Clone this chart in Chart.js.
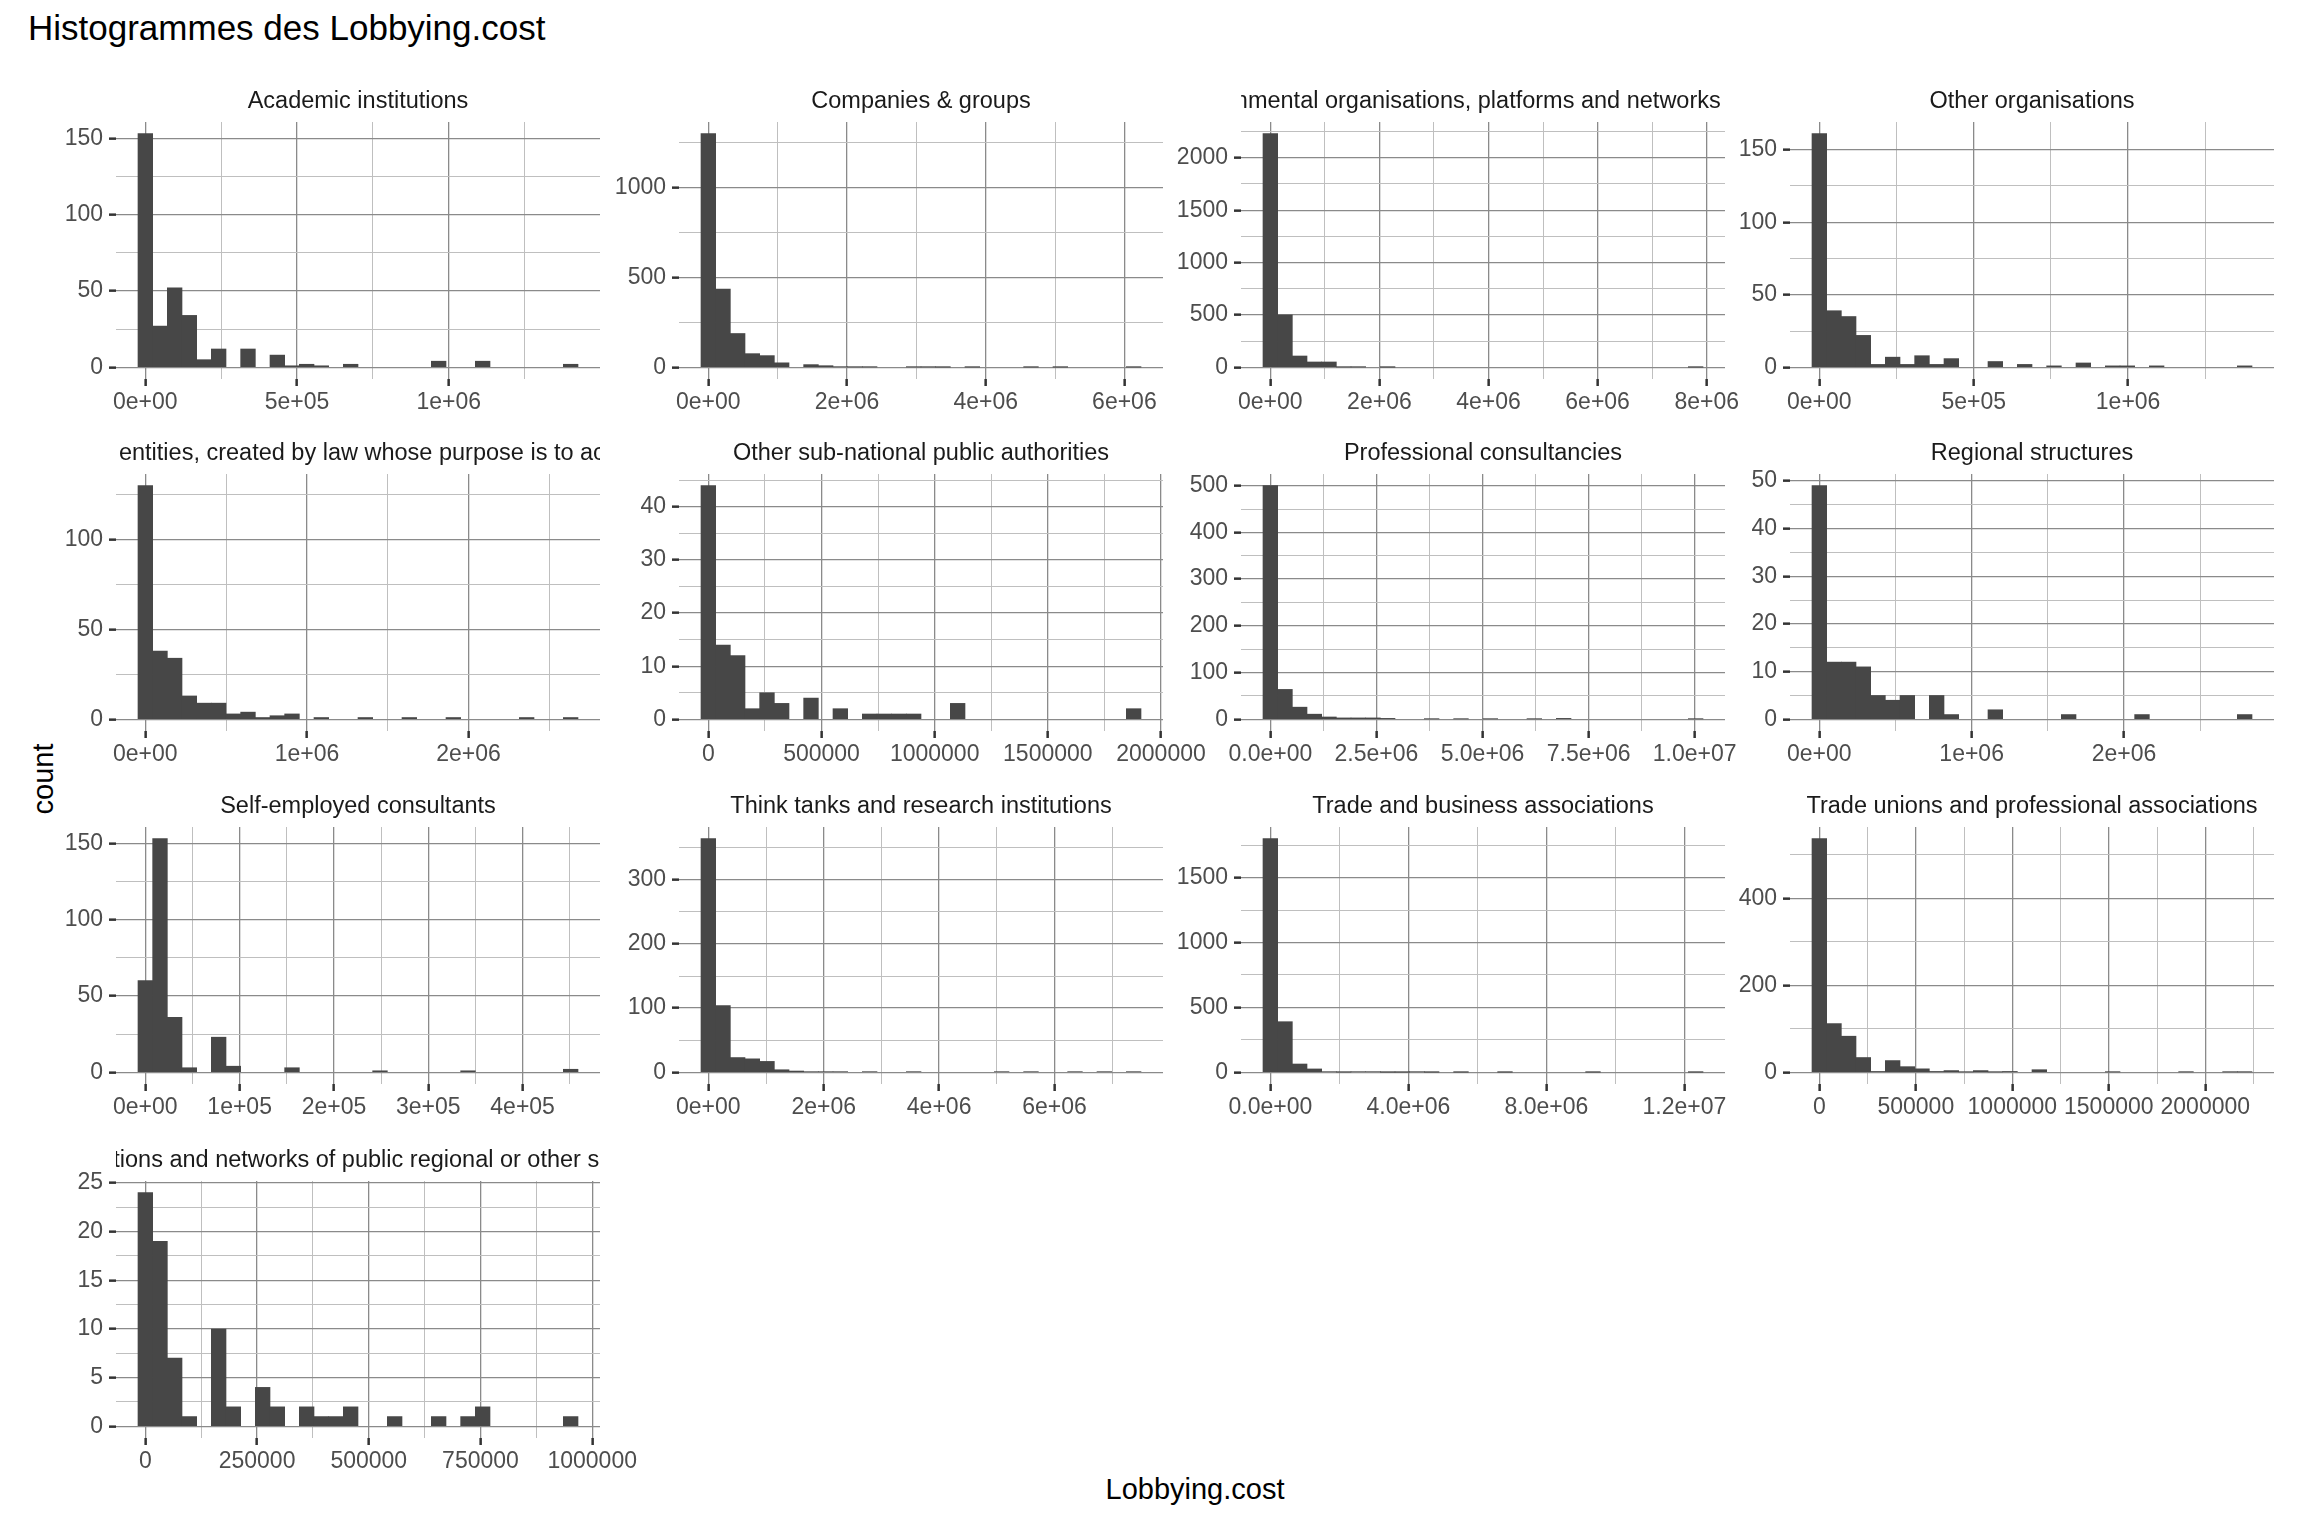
<!DOCTYPE html>
<html><head><meta charset="utf-8">
<script src="https://cdn.jsdelivr.net/npm/chart.js@4.4.1/dist/chart.umd.min.js"></script>
<style>
html,body{margin:0;padding:0;background:#fff;}
#page{position:relative;width:2304px;height:1536px;overflow:hidden;background:#fff;font-family:'Liberation Sans',Arial,sans-serif;}
#page canvas{position:absolute;}
.t{position:absolute;white-space:nowrap;color:#000;font-family:'Liberation Sans',Arial,sans-serif;}
</style></head><body>
<div id="page">
  <div class="t" style="left:28px;top:10px;font-size:35px;line-height:35px;">Histogrammes des Lobbying.cost</div>
  <div class="t" style="left:1195px;top:1475px;font-size:29px;line-height:29px;transform:translateX(-50%);">Lobbying.cost</div>
  <div class="t" style="left:43px;top:779px;font-size:29px;line-height:29px;transform:translate(-50%,-50%) rotate(-90deg);">count</div>
</div>
<script>
// ---------- data ----------
const panelNames = [
  "Academic institutions",
  "Companies & groups",
  "Non-governmental organisations, platforms and networks and similar",
  "Other organisations",
  "Other public or mixed entities, created by law whose purpose is to act in the public interest",
  "Other sub-national public authorities",
  "Professional consultancies",
  "Regional structures",
  "Self-employed consultants",
  "Think tanks and research institutions",
  "Trade and business associations",
  "Trade unions and professional associations",
  "Transnational associations and networks of public regional or other sub-national authorities"
];
// histogram bin widths (30 bins, first bin centred on 0)
const binWidths = [48340, 211500, 268900, 47500, 90750, 64800, 345600, 96300, 15550, 254200, 425100, 76000, 32820];

const countsAcademic      = [153,27,52,34,5,12,0,12,0,8,1,2,1,0,2,0,0,0,0,0,4,0,0,4,0,0,0,0,0,2];
const countsCompanies     = [1299,435,188,76,65,25,0,15,9,3,2,2,0,0,2,2,1,0,1,0,0,0,1,0,1,0,0,0,0,1];
const countsNGO           = [2230,500,108,51,51,3,3,0,1,0,0,0,0,0,0,0,0,0,0,0,0,0,0,0,0,0,0,0,0,1];
const countsOtherOrg      = [161,39,35,22,2,7,2,8,2,6,0,0,4,0,2,0,1,0,3,0,1,1,0,1,0,0,0,0,0,1];
const countsEntities      = [130,38,34,13,9,9,3,4,1,2,3,0,1,0,0,1,0,0,1,0,0,1,0,0,0,0,1,0,0,1];
const countsSubNational   = [44,14,12,2,5,3,0,4,0,2,0,1,1,1,1,0,0,3,0,0,0,0,0,0,0,0,0,0,0,2];
const countsProfessional  = [500,64,26,11,5,3,3,3,2,0,0,1,0,1,0,1,0,0,1,0,2,0,0,0,0,0,0,0,0,1];
const countsRegional      = [49,12,12,11,5,4,5,0,5,1,0,0,2,0,0,0,0,1,0,0,0,0,1,0,0,0,0,0,0,1];
const countsSelfEmployed  = [60,153,36,3,0,23,4,0,0,0,3,0,0,0,0,0,1,0,0,0,0,0,1,0,0,0,0,0,0,2];
const countsThinkTanks    = [364,104,23,21,17,4,2,1,1,1,0,1,0,0,1,0,0,0,0,0,1,0,1,0,0,1,0,1,0,1];
const countsTradeBusiness = [1800,390,64,26,5,2,5,5,1,1,4,1,0,1,0,0,1,0,0,0,0,0,1,0,0,0,0,0,0,1];
const countsTradeUnions   = [537,112,83,34,2,27,13,8,2,4,1,4,1,2,0,6,0,0,0,0,1,0,0,0,0,1,0,0,1,1];
const countsTransnational = [24,19,7,1,0,10,2,0,4,2,0,2,1,1,2,0,0,1,0,0,1,0,1,2,0,0,0,0,0,1];

const allCounts = [countsAcademic, countsCompanies, countsNGO, countsOtherOrg, countsEntities,
  countsSubNational, countsProfessional, countsRegional, countsSelfEmployed, countsThinkTanks,
  countsTradeBusiness, countsTradeUnions, countsTransnational];

const xBreaks = [
  [0,5e5,1e6], [0,2e6,4e6,6e6], [0,2e6,4e6,6e6,8e6], [0,5e5,1e6], [0,1e6,2e6],
  [0,5e5,1e6,1.5e6,2e6], [0,2.5e6,5e6,7.5e6,1e7], [0,1e6,2e6], [0,1e5,2e5,3e5,4e5],
  [0,2e6,4e6,6e6], [0,4e6,8e6,1.2e7], [0,5e5,1e6,1.5e6,2e6], [0,2.5e5,5e5,7.5e5,1e6]
];
const xTickLabels = [
  ["0e+00","5e+05","1e+06"],
  ["0e+00","2e+06","4e+06","6e+06"],
  ["0e+00","2e+06","4e+06","6e+06","8e+06"],
  ["0e+00","5e+05","1e+06"],
  ["0e+00","1e+06","2e+06"],
  ["0","500000","1000000","1500000","2000000"],
  ["0.0e+00","2.5e+06","5.0e+06","7.5e+06","1.0e+07"],
  ["0e+00","1e+06","2e+06"],
  ["0e+00","1e+05","2e+05","3e+05","4e+05"],
  ["0e+00","2e+06","4e+06","6e+06"],
  ["0.0e+00","4.0e+06","8.0e+06","1.2e+07"],
  ["0","500000","1000000","1500000","2000000"],
  ["0","250000","500000","750000","1000000"]
];
const yBreaks = [
  [0,50,100,150], [0,500,1000], [0,500,1000,1500,2000], [0,50,100,150], [0,50,100],
  [0,10,20,30,40], [0,100,200,300,400,500], [0,10,20,30,40,50], [0,50,100,150],
  [0,100,200,300], [0,500,1000,1500], [0,200,400], [0,5,10,15,20,25]
];

// ---------- layout ----------
const colLeft = [116, 679, 1241, 1790];
const rowTop = [122, 474, 827, 1181];
const PW = 484, PH = 257;
const L = 110, T = 50, R = 70, B = 60;
const FONT = "'Liberation Sans', Arial, sans-serif";
const BAR = '#474747';
const MAJOR = '#8a8a8a', MINOR = '#bfbfbf';

Chart.defaults.font.family = FONT;

function buildTicks(majors, labels, lo, hi) {
  const step = majors[1] - majors[0];
  const out = [];
  majors.forEach((v, i) => { if (v >= lo && v <= hi) out.push({value: v, lab: labels ? labels[i] : String(v), minor: false}); });
  for (let k = -1; k < majors.length; k++) {
    const m = majors[0] + step * (k + 0.5);
    if (m >= lo && m <= hi) out.push({value: m, lab: '', minor: true});
  }
  out.sort((a, b) => a.value - b.value);
  return out;
}

const stripPlugin = {
  id: 'strip',
  afterDraw(chart, args, opts) {
    const {ctx, chartArea: a} = chart;
    ctx.save();
    ctx.beginPath();
    ctx.rect(a.left, 0, a.right - a.left, a.top);
    ctx.clip();
    ctx.font = "23.5px " + FONT;
    ctx.fillStyle = '#1a1a1a';
    ctx.textAlign = 'center';
    ctx.textBaseline = 'alphabetic';
    ctx.fillText(opts.text, (a.left + a.right) / 2, a.top - 14);
    ctx.restore();
  }
};

const page = document.getElementById('page');
panelNames.forEach((name, p) => {
  const col = p % 4, row = Math.floor(p / 4);
  const w = binWidths[p];
  const counts = allCounts[p];
  const ymax = Math.max(...counts);
  const xlo = -2 * w, xhi = 31 * w;           // bins span [-w/2, 29.5w], plus 5% expansion
  const ylo = -0.05 * ymax, yhi = 1.05 * ymax;
  const xt = buildTicks(xBreaks[p], xTickLabels[p], xlo, xhi);
  const yt = buildTicks(yBreaks[p], null, ylo, yhi);

  const cv = document.createElement('canvas');
  const W = L + PW + R, H = T + PH + B;
  cv.width = W; cv.height = H;
  cv.style.left = (colLeft[col] - L) + 'px';
  cv.style.top = (rowTop[row] - T) + 'px';
  cv.style.width = W + 'px'; cv.style.height = H + 'px';
  page.appendChild(cv);

  const gridOpts = {
    offset: false,
    color: c => (c.tick && c.tick.minor) ? MINOR : MAJOR,
    lineWidth: c => (c.tick && c.tick.minor) ? 1 : 1.3,
    tickLength: 7,
    tickColor: c => (c.tick && c.tick.minor) ? 'rgba(0,0,0,0)' : '#333333',
    tickWidth: 2.5
  };

  new Chart(cv, {
    type: 'bar',
    data: {
      datasets: [{
        data: counts.map((c, i) => ({x: i * w, y: c === 0 ? null : c})),
        backgroundColor: BAR,
        borderWidth: 0,
        barPercentage: 1,
        categoryPercentage: 1
      }]
    },
    options: {
      responsive: false,
      animation: false,
      devicePixelRatio: 1,
      layout: {padding: {left: 0, top: T, right: R, bottom: 0}},
      plugins: {legend: {display: false}, tooltip: {enabled: false}, strip: {text: name}},
      scales: {
        x: {
          type: 'linear', min: xlo, max: xhi, offset: false,
          afterFit: s => { s.height = B; },
          afterBuildTicks: s => { s.ticks = xt.map(t => Object.assign({}, t)); },
          ticks: {autoSkip: false, maxRotation: 0, minRotation: 0, padding: 3, color: '#4d4d4d',
                  font: {size: 23}, callback: (v, i, ts) => ts[i].lab},
          grid: gridOpts,
          border: {display: false}
        },
        y: {
          type: 'linear', min: ylo, max: yhi,
          afterFit: s => { s.width = L; },
          afterBuildTicks: s => { s.ticks = yt.map(t => Object.assign({}, t)); },
          ticks: {autoSkip: false, padding: 6, color: '#4d4d4d', font: {size: 23},
                  callback: (v, i, ts) => ts[i].lab},
          grid: gridOpts,
          border: {display: false}
        }
      }
    },
    plugins: [stripPlugin]
  });
});
</script>
</body></html>
